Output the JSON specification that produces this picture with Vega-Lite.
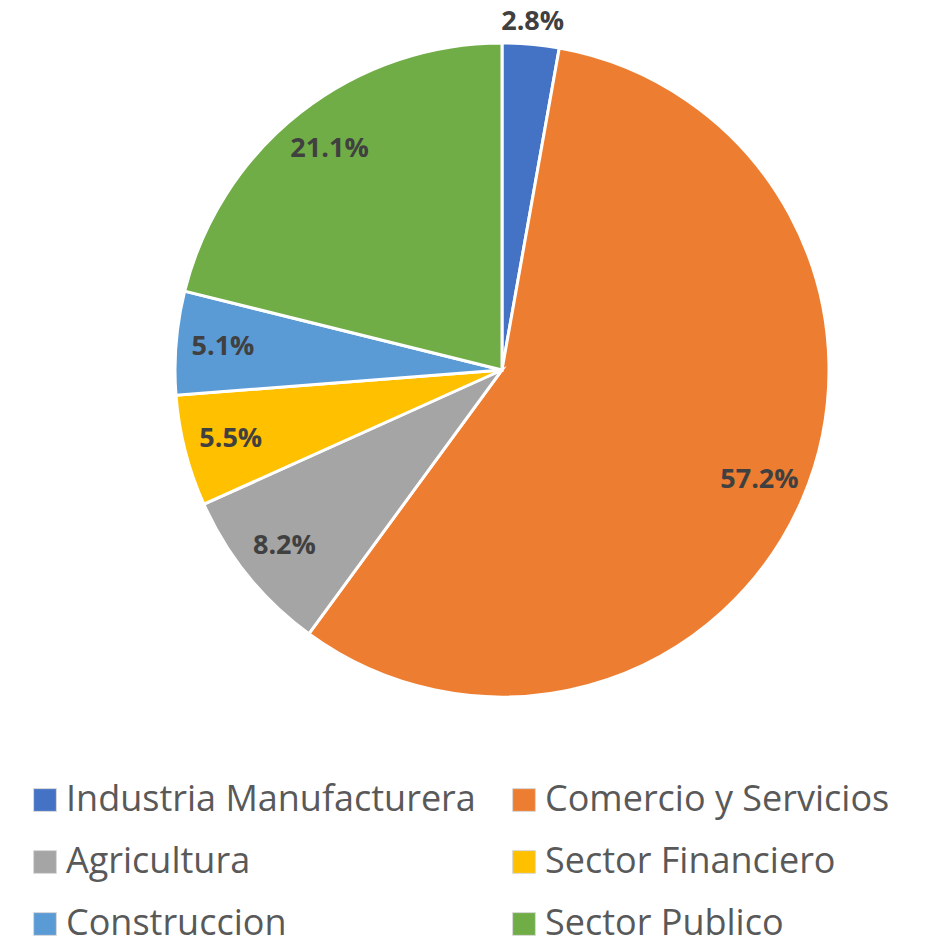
{
  "$schema": "https://vega.github.io/schema/vega-lite/v6.json",
  "autosize": "none",
  "width": 854,
  "height": 740,
  "padding": {"left": 75, "top": 0, "right": 0, "bottom": 205},
  "background": "white",
  "data": {
    "values": [
      {"sector": "Industria Manufacturera", "share": 0.028, "order": 1},
      {"sector": "Comercio y Servicios", "share": 0.572, "order": 2},
      {"sector": "Agricultura", "share": 0.082, "order": 3},
      {"sector": "Sector Financiero", "share": 0.055, "order": 4},
      {"sector": "Construccion", "share": 0.051, "order": 5},
      {"sector": "Sector Publico", "share": 0.211, "order": 6}
    ]
  },
  "encoding": {
    "theta": {"field": "share", "type": "quantitative", "stack": true},
    "order": {"field": "order", "type": "quantitative"}
  },
  "layer": [
    {
      "mark": {"type": "arc", "outerRadius": 327, "stroke": "white", "strokeWidth": 3},
      "encoding": {
        "color": {
          "field": "sector",
          "type": "nominal",
          "scale": {
            "domain": ["Industria Manufacturera", "Comercio y Servicios", "Agricultura", "Sector Financiero", "Construccion", "Sector Publico"],
            "range": ["#4472C4", "#ED7D31", "#A5A5A5", "#FFC000", "#5B9BD5", "#70AD47"]
          },
          "legend": {
            "title": null,
            "orient": "none",
            "direction": "horizontal",
            "legendX": -48,
            "legendY": 782,
            "columns": 2,
            "columnPadding": 30,
            "rowPadding": 26,
            "symbolType": "square",
            "symbolSize": 520,
            "symbolStrokeColor": "#d9d9d9",
            "symbolStrokeWidth": 1,
            "labelFont": "Open Sans",
            "labelFontSize": 36,
            "labelColor": "#595959",
            "labelLimit": 600,
            "labelOffset": 3
          }
        }
      }
    },
    {
      "mark": {"type": "text", "radius": 280, "font": "Open Sans", "fontWeight": "bold", "fontSize": 27, "fill": "#404040"},
      "encoding": {
        "text": {
          "condition": {"test": "datum.share < 0.03", "value": ""},
          "field": "share", "type": "quantitative", "format": ".1%"
        }
      }
    },
    {
      "mark": {"type": "text", "radius": 349, "font": "Open Sans", "fontWeight": "bold", "fontSize": 27, "fill": "#404040"},
      "encoding": {
        "text": {
          "condition": {"test": "datum.share >= 0.03", "value": ""},
          "field": "share", "type": "quantitative", "format": ".1%"
        }
      }
    }
  ]
}
